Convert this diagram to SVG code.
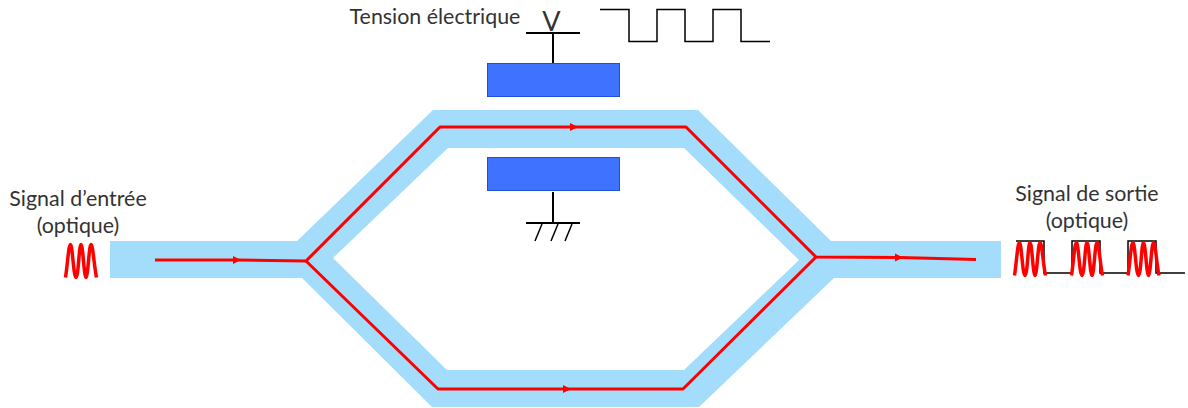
<svg xmlns="http://www.w3.org/2000/svg" width="1188" height="408" viewBox="0 0 1188 408">
<style>
.t{font-family:"Lato","Open Sans","Liberation Sans",sans-serif;font-size:21.400px;fill:#333;text-anchor:middle}
.w{fill:none;stroke:#000;stroke-width:2}
.g{fill:none;stroke:#000;stroke-width:1.500}
.r{fill:none;stroke:#f00;stroke-width:3;stroke-linejoin:round}
.s{fill:none;stroke:#f00;stroke-width:3.500}
.e{fill:#3f72ff;stroke:#1f50d8;stroke-width:1}
</style>
<defs>
<marker id="a" markerUnits="userSpaceOnUse" markerWidth="10" markerHeight="10" refX="5" refY="4" orient="auto"><path d="M0 0L8 4L0 8Z" fill="#f00"/></marker>
<path id="p" d="M0 0C2 -12 3 -33 5 -33S8 0 10.500 0 13.500 -33 15.500 -33 18.500 0 20.500 0 23.500 -33 25.500 -33 28.500 -12 31 0"/>
</defs>
<g id="guide"><path fill="#a4dcfc" fill-rule="evenodd" d="M110 241H297L433 110H698L831 241H1001V278H834L699 407H432L302 278H110ZM333 258L448 148H684L799 260L684 370H447Z"/></g>
<g id="electrode-top"><rect class="e" x="487.500" y="63.500" width="132" height="33"/></g>
<g id="electrode-bottom"><rect class="e" x="487.500" y="157.500" width="132" height="33"/></g>
<g id="labels">
<text class="t" x="435" y="24">Tension électrique</text>
<text class="t" x="551.500" y="30.500" style="font-size:27px">V</text>
<text class="t" x="78" y="206">Signal d’entrée</text>
<text class="t" x="78" y="233">(optique)</text>
<text class="t" x="1087" y="201">Signal de sortie</text>
<text class="t" x="1087" y="228">(optique)</text>
</g>
<g id="connectors">
<path class="w" d="M526 33H580M553 33V63"/>
<path class="g" d="M600 9.500H629V41.500H657V9.500H685V41.500H713V9.500H741V41.500H770"/>
<path class="w" d="M553 192V223M526 223H580"/>
<path class="g" d="M542 224L535 241M558 224L551 241M572 224L565 241"/>
<path class="g" d="M1016 241H1044V273H1072V241H1100V273H1128V241H1156V273H1185"/>
<path class="r" d="M155 260L238 260" marker-end="url(#a)"/>
<path class="r" d="M238 260L306 261L440 127L575 127" marker-end="url(#a)"/>
<path class="r" d="M575 127H686L816 257L900 257.500" marker-end="url(#a)"/>
<path class="r" d="M900 257.500L976 259.500"/>
<path class="r" d="M306 261L438 389H568" marker-end="url(#a)"/>
<path class="r" d="M568 389H683L816 257"/>
</g>
<g id="pulses" class="s">
<use href="#p" x="65.500" y="277.500"/>
<use href="#p" x="1014.500" y="275.500"/>
<use href="#p" x="1071.500" y="275.500"/>
<use href="#p" x="1128" y="275.500"/>
</g>
</svg>
